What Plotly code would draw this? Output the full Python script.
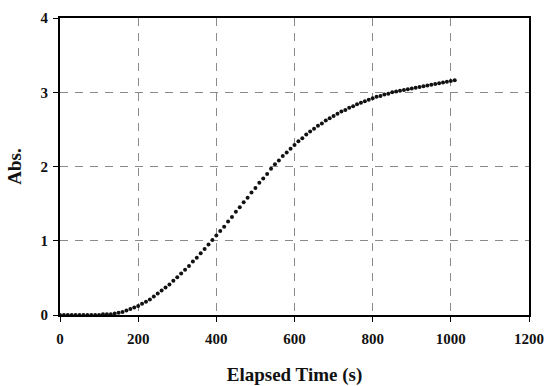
import plotly.graph_objects as go

time_s = list(range(0, 1011, 10))
absorbance = [
    0.00, 0.00, 0.00, 0.00, 0.00, 0.00, 0.00, 0.00, 0.00, 0.00,
    0.00, 0.01, 0.01, 0.01, 0.02, 0.03, 0.04, 0.06, 0.08, 0.10,
    0.12, 0.15, 0.18, 0.21, 0.25, 0.29, 0.33, 0.37, 0.41, 0.46,
    0.51, 0.56, 0.61, 0.66, 0.72, 0.77, 0.83, 0.89, 0.95, 1.01,
    1.07, 1.13, 1.19, 1.26, 1.32, 1.39, 1.45, 1.52, 1.58, 1.65,
    1.71, 1.78, 1.84, 1.90, 1.97, 2.03, 2.08, 2.14, 2.19, 2.24,
    2.29, 2.34, 2.38, 2.43, 2.47, 2.51, 2.55, 2.58, 2.62, 2.65,
    2.68, 2.71, 2.74, 2.76, 2.79, 2.81, 2.84, 2.86, 2.88, 2.90,
    2.92, 2.94, 2.95, 2.97, 2.98, 3.00, 3.01, 3.02, 3.03, 3.04,
    3.05, 3.06, 3.07, 3.08, 3.09, 3.10, 3.11, 3.12, 3.13, 3.14,
    3.15, 3.16,
]
x_ticks = [0, 200, 400, 600, 800, 1000, 1200]
y_ticks = [0, 1, 2, 3, 4]

font_family = "Liberation Serif"

fig = go.Figure()
fig.add_trace(go.Scatter(
    x=time_s, y=absorbance, mode="markers",
    marker=dict(color="#111111", size=4),
    showlegend=False,
))

axis_common = dict(
    showline=True, linecolor="black", linewidth=2, mirror=True,
    showgrid=True, gridcolor="#8a8a8a", gridwidth=1, griddash="8px,7px",
    ticks="outside", ticklen=5, tickcolor="black", tickwidth=1,
    zeroline=False, automargin=False,
    tickfont=dict(family=font_family, size=15, color="#111111", weight="bold"),
)

fig.update_layout(
    width=547, height=386,
    margin=dict(l=60, r=18, t=18, b=71),
    paper_bgcolor="white", plot_bgcolor="white",
    font=dict(family=font_family, color="#111111"),
    xaxis=dict(
        range=[0, 1200], tickvals=x_ticks, **axis_common,
        ticklabelstandoff=4,
        title=dict(text="Elapsed Time (s)", standoff=22,
                   font=dict(family=font_family, size=19, weight="bold")),
    ),
    yaxis=dict(
        range=[0, 4], tickvals=y_ticks, **axis_common,
        ticklabelstandoff=2,
        title=dict(text="Abs.", standoff=14,
                   font=dict(family=font_family, size=19, weight="bold")),
    ),
)

fig.write_html("out.html")
